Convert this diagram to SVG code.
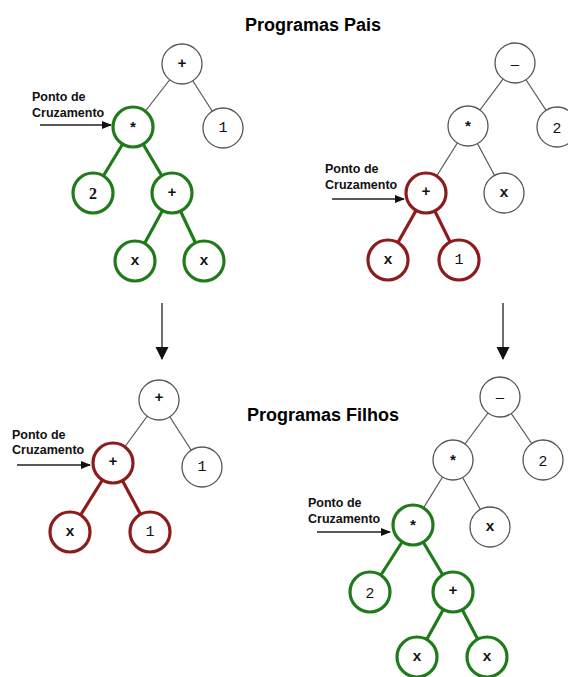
<svg xmlns="http://www.w3.org/2000/svg" width="568" height="677" viewBox="0 0 568 677">
<defs>
<style>
.title{font-family:"Liberation Sans",Arial,sans-serif;font-weight:bold;font-size:18px;fill:#000}
.lbl{font-family:"Liberation Sans",Arial,sans-serif;font-weight:bold;font-size:12.5px;fill:#111}
.n{fill:#fff;stroke:#555;stroke-width:1.3}
.g{fill:#fff;stroke:#1f7a1a;stroke-width:3.2}
.r{fill:#fff;stroke:#8c1b1b;stroke-width:3.2}
.e{stroke:#555;stroke-width:1.2;fill:none}
.eg{stroke:#1f7a1a;stroke-width:3.2;fill:none}
.er{stroke:#8c1b1b;stroke-width:3.2;fill:none}
.t{font-family:"Liberation Mono","Courier New",monospace;font-size:15px;fill:#111;text-anchor:middle;dominant-baseline:central}
.tb{font-family:"Liberation Mono","Courier New",monospace;font-weight:bold;font-size:15px;fill:#111;text-anchor:middle;dominant-baseline:central}
.ts{font-family:"Liberation Sans",Arial,sans-serif;font-size:15px;fill:#111;text-anchor:middle;dominant-baseline:central}
.tt{font-family:"Liberation Serif","Times New Roman",serif;font-weight:bold;font-size:16px;fill:#111;text-anchor:middle;dominant-baseline:central}
.arr{stroke:#222;stroke-width:1.3;fill:none}
</style>
<marker id="ah" markerWidth="10" markerHeight="8" refX="9" refY="4" orient="auto" markerUnits="userSpaceOnUse">
<path d="M0,0 L10,4 L0,8 Z" fill="#111"/>
</marker>
<marker id="ahd" markerWidth="13" markerHeight="14" refX="12" refY="6.5" orient="auto" markerUnits="userSpaceOnUse">
<path d="M0,0 L13,6.5 L0,13 Z" fill="#111"/>
</marker>
</defs>
<rect width="568" height="677" fill="#fff"/>

<text class="title" x="245" y="31">Programas Pais</text>
<text class="title" x="247" y="421">Programas Filhos</text>

<g id="connectors">
<!-- top-left tree -->
<line class="e" x1="182" y1="64" x2="133" y2="127"/>
<line class="e" x1="182" y1="64" x2="223" y2="128"/>
<line class="eg" x1="133" y1="127" x2="93" y2="193"/>
<line class="eg" x1="133" y1="127" x2="172" y2="193"/>
<line class="eg" x1="172" y1="193" x2="135" y2="261"/>
<line class="eg" x1="172" y1="193" x2="204" y2="261"/>
<!-- top-right tree -->
<line class="e" x1="515" y1="63" x2="468" y2="126"/>
<line class="e" x1="515" y1="63" x2="557" y2="127"/>
<line class="e" x1="468" y1="126" x2="426" y2="193"/>
<line class="e" x1="468" y1="126" x2="504" y2="193"/>
<line class="er" x1="426" y1="193" x2="388" y2="260"/>
<line class="er" x1="426" y1="193" x2="459" y2="260"/>
<!-- bottom-left tree -->
<line class="e" x1="159" y1="400" x2="113" y2="463"/>
<line class="e" x1="159" y1="400" x2="202" y2="467"/>
<line class="er" x1="113" y1="463" x2="70" y2="532"/>
<line class="er" x1="113" y1="463" x2="150" y2="532"/>
<!-- bottom-right tree -->
<line class="e" x1="500" y1="397" x2="453" y2="460"/>
<line class="e" x1="500" y1="397" x2="543" y2="460"/>
<line class="e" x1="453" y1="460" x2="413" y2="525"/>
<line class="e" x1="453" y1="460" x2="490" y2="527"/>
<line class="eg" x1="413" y1="525" x2="370" y2="592"/>
<line class="eg" x1="413" y1="525" x2="453" y2="592"/>
<line class="eg" x1="453" y1="592" x2="417" y2="657"/>
<line class="eg" x1="453" y1="592" x2="487" y2="657"/>
<!-- crossover pointers -->
<line class="arr" x1="40" y1="125" x2="111" y2="125" marker-end="url(#ah)"/>
<line class="arr" x1="332" y1="199" x2="404" y2="199" marker-end="url(#ah)"/>
<line class="arr" x1="17" y1="465" x2="90" y2="465" marker-end="url(#ah)"/>
<line class="arr" x1="317" y1="532" x2="390" y2="532" marker-end="url(#ah)"/>
<!-- parent to child arrows -->
<line class="arr" x1="162" y1="303" x2="162" y2="359" marker-end="url(#ahd)"/>
<line class="arr" x1="503" y1="303" x2="503" y2="359" marker-end="url(#ahd)"/>
</g>

<g id="labels">
<text class="lbl" x="32" y="101">Ponto de</text>
<text class="lbl" x="32" y="117">Cruzamento</text>
<text class="lbl" x="325" y="173">Ponto de</text>
<text class="lbl" x="325" y="189">Cruzamento</text>
<text class="lbl" x="12" y="439">Ponto de</text>
<text class="lbl" x="12" y="454">Cruzamento</text>
<text class="lbl" x="308" y="507">Ponto de</text>
<text class="lbl" x="308" y="523">Cruzamento</text>
</g>

<!-- top-left tree nodes -->
<g id="p1-plus"><circle class="n" cx="182" cy="64" r="20"/><text class="tb" x="182" y="64">+</text></g>
<g id="p1-mul"><circle class="g" cx="133" cy="127" r="20"/><text class="tb" x="133" y="129">*</text></g>
<g id="p1-one"><circle class="n" cx="223" cy="128" r="20"/><text class="t" x="223" y="128">1</text></g>
<g id="p1-two"><circle class="g" cx="93" cy="193" r="20"/><text class="tt" x="93" y="193">2</text></g>
<g id="p1-plus2"><circle class="g" cx="172" cy="193" r="20"/><text class="tb" x="172" y="193">+</text></g>
<g id="p1-x1"><circle class="g" cx="135" cy="261" r="20"/><text class="tb" x="135" y="261">x</text></g>
<g id="p1-x2"><circle class="g" cx="204" cy="261" r="20"/><text class="tb" x="204" y="261">x</text></g>

<!-- top-right tree nodes -->
<g id="p2-minus"><circle class="n" cx="515" cy="63" r="20"/><text class="ts" x="515" y="63">–</text></g>
<g id="p2-mul"><circle class="n" cx="468" cy="126" r="20"/><text class="tb" x="468" y="128">*</text></g>
<g id="p2-two"><circle class="n" cx="557" cy="127" r="20"/><text class="ts" x="557" y="127">2</text></g>
<g id="p2-plus"><circle class="r" cx="426" cy="193" r="20"/><text class="tb" x="426" y="192">+</text></g>
<g id="p2-x"><circle class="n" cx="504" cy="193" r="20"/><text class="tb" x="504" y="193">x</text></g>
<g id="p2-x2"><circle class="r" cx="388" cy="260" r="20"/><text class="tb" x="388" y="260">x</text></g>
<g id="p2-one"><circle class="r" cx="459" cy="260" r="20"/><text class="t" x="459" y="260">1</text></g>

<!-- bottom-left tree nodes -->
<g id="c1-plus"><circle class="n" cx="159" cy="400" r="20"/><text class="tb" x="159" y="398">+</text></g>
<g id="c1-plus2"><circle class="r" cx="113" cy="463" r="20"/><text class="tb" x="113" y="462">+</text></g>
<g id="c1-one"><circle class="n" cx="202" cy="467" r="20"/><text class="t" x="202" y="467">1</text></g>
<g id="c1-x"><circle class="r" cx="70" cy="532" r="20"/><text class="tb" x="70" y="532">x</text></g>
<g id="c1-one2"><circle class="r" cx="150" cy="532" r="20"/><text class="t" x="150" y="532">1</text></g>

<!-- bottom-right tree nodes -->
<g id="c2-minus"><circle class="n" cx="500" cy="397" r="20"/><text class="ts" x="500" y="396">–</text></g>
<g id="c2-mul"><circle class="n" cx="453" cy="460" r="20"/><text class="tb" x="453" y="462">*</text></g>
<g id="c2-two"><circle class="n" cx="543" cy="460" r="20"/><text class="ts" x="543" y="460">2</text></g>
<g id="c2-mul2"><circle class="g" cx="413" cy="525" r="20"/><text class="tb" x="413" y="527">*</text></g>
<g id="c2-x"><circle class="n" cx="490" cy="527" r="20"/><text class="tb" x="490" y="527">x</text></g>
<g id="c2-two2"><circle class="g" cx="370" cy="592" r="20"/><text class="ts" x="370" y="592">2</text></g>
<g id="c2-plus"><circle class="g" cx="453" cy="592" r="20"/><text class="tb" x="453" y="591">+</text></g>
<g id="c2-x1"><circle class="g" cx="417" cy="657" r="20"/><text class="tb" x="417" y="657">x</text></g>
<g id="c2-x2"><circle class="g" cx="487" cy="657" r="20"/><text class="tb" x="487" y="657">x</text></g>
</svg>
